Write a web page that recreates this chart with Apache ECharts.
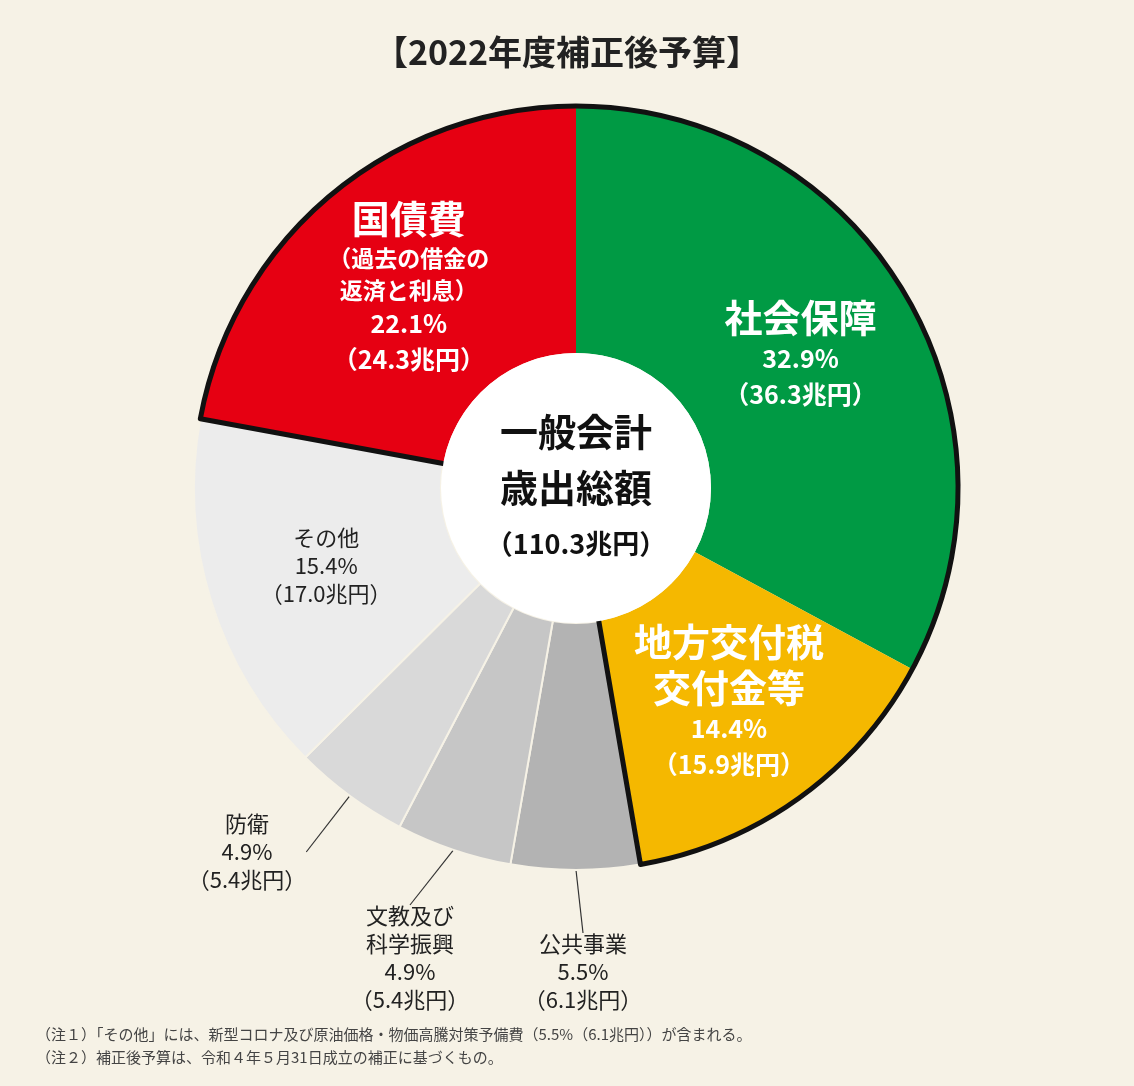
<!DOCTYPE html>
<html><head><meta charset="utf-8">
<script src="https://cdn.jsdelivr.net/npm/echarts@6/dist/echarts.min.js"></script>
<style>html,body{margin:0;background:#f6f2e6}#c{width:1134px;height:1086px}</style>
</head><body><div id="c"></div>
<script>
// 2022年度補正後予算（一般会計歳出）
const names = ['社会保障', '地方交付税\n交付金等', '公共事業', '文教及び\n科学振興', '防衛', 'その他', '国債費']
const shares = [32.9, 14.4, 5.5, 4.9, 4.9, 15.4, 22.1]
const amounts = [36.3, 15.9, 6.1, 5.4, 5.4, 17.0, 24.3]
const colors = ['#009a44', '#f5b800', '#b3b3b3', '#c6c6c6', '#d9d9d9', '#ececec', '#e60012']
const notes = [
  '（注１）「その他」には、新型コロナ及び原油価格・物価高騰対策予備費（5.5%（6.1兆円））が含まれる。',
  '（注２）補正後予算は、令和４年５月31日成立の補正に基づくもの。'
]
const big = ['社会保障', '地方交付税\n交付金等', '国債費']
const outerPos = { 2: [583, 972], 3: [410, 958], 4: [247, 852] }
const font = '"Noto Sans CJK JP", "Noto Sans", sans-serif'

const data = names.map((n, i) => {
  const isBig = big.includes(n)
  let text
  if (n === '国債費') {
    text = `{b|${n}}\n{s|（過去の借金の}\n{s|返済と利息）}\n{p|${shares[i].toFixed(1)}%}\n{p|（${amounts[i].toFixed(1)}兆円）}`
  } else if (isBig) {
    text = n.split('\n').map(t => `{b|${t}}`).join('\n') + `\n{p|${shares[i].toFixed(1)}%}\n{p|（${amounts[i].toFixed(1)}兆円）}`
  } else {
    text = n.split('\n').map(t => `{g|${t}}`).join('\n') + `\n{g|${shares[i].toFixed(1)}%}\n{g|（${amounts[i].toFixed(1)}兆円）}`
  }
  return {
    name: n, value: shares[i],
    itemStyle: { color: colors[i], borderColor: isBig ? colors[i] : '#f6f2e6', borderWidth: isBig ? 0 : 2 },
    label: {
      formatter: text,
      position: outerPos[i] ? 'outside' : 'inside',
      color: isBig ? '#fff' : '#222'
    },
    labelLine: { show: !!outerPos[i], length: 25, length2: 0, lineStyle: { color: '#333', width: 1.2 } }
  }
})

const chart = echarts.init(document.getElementById('c'))
const rich = {
  b: { fontSize: 38, fontWeight: 'bold', color: '#fff', lineHeight: 46, fontFamily: font, align: 'center' },
  s: { fontSize: 23, fontWeight: 'bold', color: '#fff', lineHeight: 32, fontFamily: font, align: 'center' },
  p: { fontSize: 25, fontWeight: 'bold', color: '#fff', lineHeight: 36, fontFamily: font, align: 'center' },
  g: { fontSize: 22, color: '#222', lineHeight: 28, fontFamily: font, align: 'center' }
}
const bigTotal = shares[0] + shares[1] + shares[6]
const C = [576, 488], R = 382
chart.setOption({
  backgroundColor: '#f6f2e6',
  title: {
    text: '【2022年度補正後予算】', left: 'center', top: 30,
    textStyle: { fontSize: 34, fontWeight: 'bold', color: '#222', fontFamily: font }
  },
  graphic: [
    { type: 'text', left: 36, top: 1027, style: { text: notes[0], fontSize: 15, fill: '#444', fontFamily: font } },
    { type: 'text', left: 36, top: 1050, style: { text: notes[1], fontSize: 15, fill: '#444', fontFamily: font } }
  ],
  series: [
    {
      type: 'pie', center: C, radius: [135, R], startAngle: 90, clockwise: true,
      silent: true, data: data,
      label: { rich: rich, fontFamily: font, align: 'center' },
      labelLayout: p => outerPos[p.dataIndex] ? { x: outerPos[p.dataIndex][0], y: outerPos[p.dataIndex][1], align: 'center', verticalAlign: 'middle' } : {}
    },
    {
      // black outline around 国債費 + 社会保障 + 地方交付税
      type: 'pie', center: C, radius: [0, R], silent: true, z: 3,
      startAngle: 90 + shares[6] * 3.6, clockwise: true, label: { show: false }, labelLine: { show: false },
      data: [
        { value: bigTotal, itemStyle: { color: 'rgba(0,0,0,0)', borderColor: '#111', borderWidth: 5, borderJoin: 'round' } },
        { value: 100 - bigTotal, itemStyle: { color: 'rgba(0,0,0,0)', borderWidth: 0 } }
      ]
    },
    {
      type: 'pie', center: C, radius: [0, 135], silent: true, z: 4,
      data: [{ value: 1, itemStyle: { color: '#fff' } }],
      label: {
        position: 'center', fontFamily: font,
        formatter: '{c1|一般会計}\n{c1|歳出総額}\n{c2|（110.3兆円）}',
        rich: {
          c1: { fontSize: 38, fontWeight: 'bold', color: '#111', lineHeight: 56, fontFamily: font },
          c2: { fontSize: 27, fontWeight: 'bold', color: '#111', lineHeight: 56, fontFamily: font }
        }
      },
      labelLine: { show: false }
    }
  ]
})
</script></body></html>
